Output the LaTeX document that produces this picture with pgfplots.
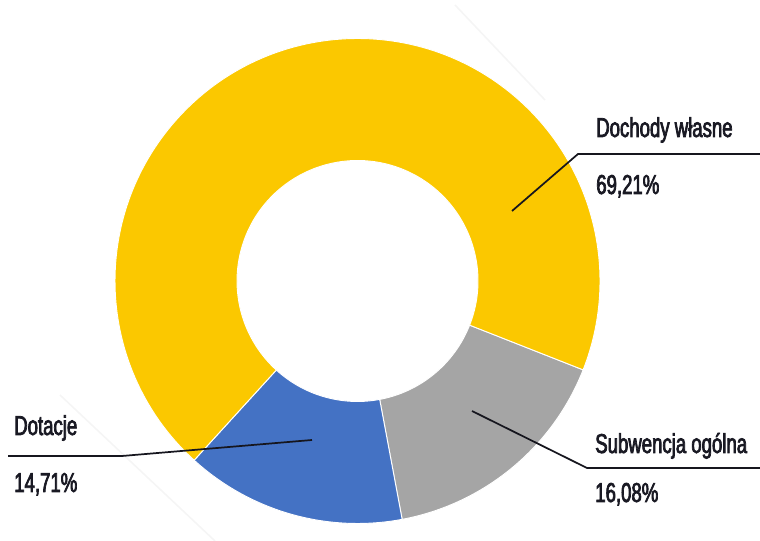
\documentclass[border=0pt]{standalone}
\usepackage{pgfplots}
\pgfplotsset{compat=1.18}
\usepackage{pgfplotstable}
\usepackage{fontspec}
\setmainfont{Liberation Sans}
\newfontfamily\lab{Liberation Sans}[FakeStretch=0.68,FakeBold=2.6]
\definecolor{cyellow}{RGB}{251,200,0}
\definecolor{cgray}{RGB}{165,165,165}
\definecolor{cblue}{RGB}{68,114,196}
\definecolor{cline}{RGB}{22,22,30}
\definecolor{ctext}{RGB}{25,25,35}

\pgfplotstableread{
label value
Dochody 69.21
Subwencja 16.08
Dotacje 14.71
}\piedata

\begin{document}
\begin{tikzpicture}
\pgfplotstablegetelem{0}{value}\of\piedata \let\vA\pgfplotsretval
\pgfplotstablegetelem{1}{value}\of\piedata \let\vB\pgfplotsretval
\pgfplotstablegetelem{2}{value}\of\piedata \let\vC\pgfplotsretval
% start of the grey slice, going clockwise
\pgfmathsetmacro{\aZero}{-21.5}
\pgfmathsetmacro{\aOne}{\aZero-3.6*\vB}
\pgfmathsetmacro{\aTwo}{\aOne-3.6*\vC}
\pgfmathsetmacro{\aThree}{\aTwo-3.6*\vA}
\def\Ro{181.875pt}
\def\Ri{90.375pt}
\def\dR{-91.5pt}
\begin{axis}[
  hide axis, scale only axis,
  width=570pt, height=405.75pt,
  xmin=0, xmax=760, ymin=0, ymax=541,
  clip=false,
]
\coordinate (BBsw) at (axis cs:0,0);
\coordinate (BBne) at (axis cs:760,541);
% faint background lines
\draw[gray!8, line width=1.2pt] (axis cs:455,536) -- (axis cs:545,441);
\draw[gray!8, line width=1.2pt] (axis cs:60,146) -- (axis cs:215,0);
% slices
\fill[cgray, draw=white, line width=0.7pt] (axis cs:357.5,260) ++(\aZero:\Ro)
  arc[start angle=\aZero, end angle=\aOne, radius=\Ro] -- ++(\aOne:\dR)
  arc[start angle=\aOne, end angle=\aZero, radius=\Ri] -- cycle;
\fill[cblue, draw=white, line width=0.7pt] (axis cs:357.5,260) ++(\aOne:\Ro)
  arc[start angle=\aOne, end angle=\aTwo, radius=\Ro] -- ++(\aTwo:\dR)
  arc[start angle=\aTwo, end angle=\aOne, radius=\Ri] -- cycle;
\fill[cyellow, draw=white, line width=0.7pt] (axis cs:357.5,260) ++(\aTwo:\Ro)
  arc[start angle=\aTwo, end angle=\aThree, radius=\Ro] -- ++(\aThree:\dR)
  arc[start angle=\aThree, end angle=\aTwo, radius=\Ri] -- cycle;
% leader lines
\draw[cline, line width=1.3pt] (axis cs:512,330) -- (axis cs:578,387) -- (axis cs:760,387);
\draw[cline, line width=1.3pt] (axis cs:472,130) -- (axis cs:587,73) -- (axis cs:760,73);
\draw[cline, line width=1.3pt] (axis cs:312,101) -- (axis cs:122,85) -- (axis cs:8,85);
% labels
\tikzset{lbl/.style={anchor=base west, inner sep=0pt, text=ctext, font=\lab\fontsize{20.5}{24}\selectfont}}
\node[lbl] at (axis cs:596,404) {Dochody własne};
\node[lbl] at (axis cs:596,347) {69,21\%};
\node[lbl] at (axis cs:595,88) {Subwencja ogólna};
\node[lbl] at (axis cs:595,39) {16,08\%};
\node[lbl] at (axis cs:14,106) {Dotacje};
\node[lbl] at (axis cs:14,49) {14,71\%};
\end{axis}
\pgfresetboundingbox
\path[use as bounding box] (BBsw) rectangle (BBne);
\end{tikzpicture}
\end{document}
